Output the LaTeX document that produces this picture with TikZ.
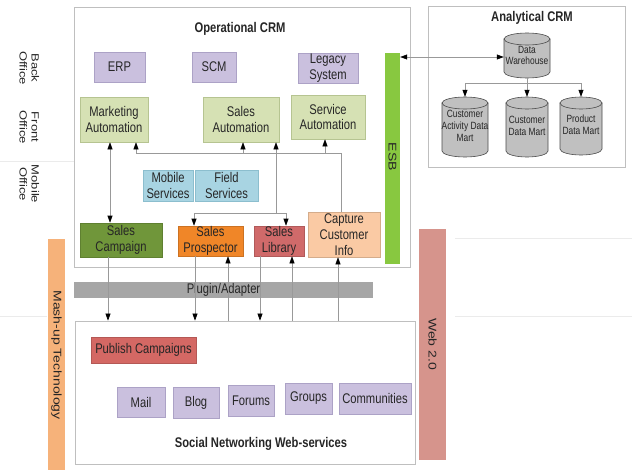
\documentclass[tikz,border=0pt]{standalone}
\usepackage{graphicx}
\usepackage{fontspec}
\setmainfont{Liberation Sans}[FakeStretch=0.8]
\newfontfamily\rotfont{Liberation Sans}
\usetikzlibrary{arrows.meta}
\definecolor{lav}{RGB}{202,192,222}
\definecolor{lavd}{RGB}{172,162,198}
\definecolor{fgrn}{RGB}{214,225,180}
\definecolor{fgrnd}{RGB}{182,196,145}
\definecolor{blu}{RGB}{168,212,226}
\definecolor{blud}{RGB}{140,190,206}
\definecolor{scg}{RGB}{112,150,58}
\definecolor{spo}{RGB}{240,134,40}
\definecolor{slr}{RGB}{208,106,106}
\definecolor{pch}{RGB}{250,202,164}
\definecolor{esbg}{RGB}{136,200,64}
\definecolor{plg}{RGB}{166,166,166}
\definecolor{msh}{RGB}{246,178,122}
\definecolor{webr}{RGB}{214,148,140}
\definecolor{pub}{RGB}{212,104,100}
\definecolor{cylf}{RGB}{192,192,192}
\tikzset{
  sz/.style 2 args={minimum width=#1pt, minimum height=#2pt},
  ft/.style={font=\fontsize{14}{15.7}\selectfont, text=black!85},
  bx/.style={ft, rectangle, align=center, inner sep=0pt, line width=0.6pt},
  lavbox/.style={bx, fill=lav, draw=lavd},
  grnbox/.style={bx, fill=fgrn, draw=fgrnd},
  blubox/.style={bx, fill=blu, draw=blud},
  frame/.style={rectangle, draw=black!25, line width=0.8pt, inner sep=0pt},
  ttl/.style={font=\bfseries\fontsize{14}{15.7}\selectfont, text=black!85},
  rt/.style={rotate=-90, align=center, inner sep=0pt, text=black!85},
  bar/.style={rectangle, inner sep=0pt},
  con/.style={draw=black!40, line width=0.6pt},
  ar/.style={-{Triangle[width=5pt,length=7pt,color=black]}},
  arb/.style={{Triangle[width=5pt,length=7pt,color=black]}-{Triangle[width=5pt,length=7pt,color=black]}},
  faint/.style={draw=black!8, line width=0.6pt},
  cyl/.style={fill=cylf, draw=black!70, line width=0.6pt},
  cylt/.style={align=center, inner sep=0pt, font=\fontsize{10.5}{11.7}\selectfont, text=black!85}
}
\begin{document}
\begin{tikzpicture}[x=1pt,y=-1pt]
\fill[white] (0,0) rectangle (632,471);
\useasboundingbox (0,0) rectangle (632,471);

% faint guide lines
\draw[faint] (0,161) -- (74,161);
\draw[faint] (455,238) -- (632,238);
\draw[faint] (0,316) -- (47,316);
\draw[faint] (455,316) -- (632,316);

% frames
\node[frame, sz={336}{260}] (op) at (242,137) {};
\node[ttl] (opt) at (240,29) {Operational CRM};
\node[frame, sz={197}{161}] (an) at (526.5,86.5) {};
\node[ttl] (ant) at (532,18) {Analytical CRM};
\node[frame, sz={340}{143}] (soc) at (245,392.5) {};
\node[ttl] (soct) at (261,444) {Social Networking Web-services};

% side labels
\node[rt] (bo) at (28,68) {\rotfont\fontsize{13}{15}\selectfont\scalebox{1}[0.8]{\begin{tabular}{@{}c@{}}Back\\Office\end{tabular}}};
\node[rt] (fo) at (28,127) {\rotfont\fontsize{13}{15}\selectfont\scalebox{1}[0.8]{\begin{tabular}{@{}c@{}}Front\\Office\end{tabular}}};
\node[rt] (mo) at (28,184) {\rotfont\fontsize{13}{15}\selectfont\scalebox{1}[0.8]{\begin{tabular}{@{}c@{}}Mobile\\Office\end{tabular}}};

% bars
\node[bar, fill=esbg, sz={15}{211}] (esb) at (392.5,158.5) {};
\node[rt] (esbt) at (392.5,157) {\rotfont\fontsize{14}{16}\selectfont\scalebox{1}[0.8]{ESB}};
\node[bar, fill=msh, sz={17}{231}] (mash) at (56.5,354.5) {};
\node[rt] (masht) at (56.5,355) {\rotfont\fontsize{14}{16}\selectfont\scalebox{1}[0.8]{Mash-up Technology}};
\node[bar, fill=webr, sz={27}{231}] (web) at (432.5,344.5) {};
\node[rt] (webt) at (432.5,344) {\rotfont\fontsize{14}{16}\selectfont\scalebox{1}[0.8]{Web 2.0}};
\node[bx, fill=plg, sz={299}{16}] (plug) at (223.5,290) {Plugin/Adapter};

% cylinders
\filldraw[cyl] (504,39) -- (504,72) arc[start angle=180, end angle=0, x radius=23, y radius=6] -- (550,39) -- cycle;
\filldraw[cyl] (527,39) ellipse[x radius=23, y radius=6];
\node[cylt, sz={46}{45}] (dw) at (527,55.5) {Data\\Warehouse};
\filldraw[cyl] (442,103) -- (442,151) arc[start angle=180, end angle=0, x radius=23, y radius=6] -- (488,103) -- cycle;
\filldraw[cyl] (465,103) ellipse[x radius=23, y radius=6];
\node[cylt, sz={46}{60}] (cadm) at (465,127) {\raisebox{-3pt}{\begin{tabular}{@{}c@{}}Customer\\Activity Data\\Mart\end{tabular}}};
\filldraw[cyl] (506,103) -- (506,151) arc[start angle=180, end angle=0, x radius=21, y radius=6] -- (548,103) -- cycle;
\filldraw[cyl] (527,103) ellipse[x radius=21, y radius=6];
\node[cylt, sz={42}{60}] (cdm) at (527,127) {\raisebox{-3pt}{\begin{tabular}{@{}c@{}}Customer\\Data Mart\end{tabular}}};
\filldraw[cyl] (560,103) -- (560,149) arc[start angle=180, end angle=0, x radius=21, y radius=6] -- (602,103) -- cycle;
\filldraw[cyl] (581,103) ellipse[x radius=21, y radius=6];
\node[cylt, sz={42}{58}] (pdm) at (581,126) {\raisebox{-3pt}{\begin{tabular}{@{}c@{}}Product\\Data Mart\end{tabular}}};

% boxes
\node[lavbox, sz={51}{30}] (erp) at (119.5,67) {ERP};
\node[lavbox, sz={44}{30}] (scm) at (214,67) {SCM};
\node[lavbox, sz={60}{30}] (leg) at (328,68) {Legacy\\System};
\node[grnbox, sz={68}{45}] (ma) at (114,119.5) {Marketing\\Automation};
\node[grnbox, sz={76}{45}] (sa) at (241,119.5) {Sales\\Automation};
\node[grnbox, sz={74}{44}] (sva) at (328,117) {Service\\Automation};
\node[blubox, sz={50}{31}] (mob) at (168,185.5) {Mobile\\Services};
\node[blubox, sz={63}{31}] (fld) at (226.5,185.5) {Field\\Services};
\node[bx, fill=scg, draw=scg!85!black, sz={82}{34}] (sc) at (121,240) {Sales\\Campaign};
\node[bx, fill=spo, draw=spo!85!black, sz={65}{30}] (sp) at (210.5,241) {Sales\\Prospector};
\node[bx, fill=slr, draw=slr!85!black, sz={50}{30}] (sl) at (279,241) {Sales\\Library};
\node[bx, fill=pch, draw=pch!85!black, sz={72}{45}] (cci) at (344,234.5) {Capture\\Customer\\Info};
\node[bx, fill=pub, draw=pub!85!black, sz={105}{26}] (pubc) at (143.5,350) {Publish Campaigns};
\node[lavbox, sz={48}{30}] (mail) at (141,402) {Mail};
\node[lavbox, sz={46}{31}] (blog) at (196,402.5) {Blog};
\node[lavbox, sz={46}{31}] (forum) at (251,400.5) {Forums};
\node[lavbox, sz={47}{31}] (grp) at (308.5,398.5) {Groups};
\node[lavbox, sz={72}{31}] (comm) at (375,398.5) {Communities};

% junction coordinates
\coordinate (j1) at (341,153);
\coordinate (j2) at (136,153);
\coordinate (j3) at (243,153);
\coordinate (j4) at (325,153);
\coordinate (k1) at (276,213);
\coordinate (k2) at (194,213);
\coordinate (k3) at (286,213);
\coordinate (m1) at (527,83);
\coordinate (m2) at (465,83);
\coordinate (m3) at (581,83);

% connectors: operational
\draw[con, arb] (110,0 |- ma.south) -- (110,0 |- sc.north);
\draw[con] (341,0 |- cci.north) -- (j1) -- (j2);
\draw[con, ar] (j2) -- (136,0 |- ma.south);
\draw[con, ar] (j3) -- (243,0 |- sa.south);
\draw[con, ar] (j4) -- (325,0 |- sva.south);
\draw[con, ar] (k1) -- (276,0 |- sa.south);
\draw[con] (k2) -- (k3);
\draw[con, ar] (k2) -- (194,0 |- sp.north);
\draw[con, ar] (k3) -- (286,0 |- sl.north);

% connectors: to/from social
\draw[con, ar] (108,0 |- sc.south) -- (108,0 |- soc.north);
\draw[con, ar] (195,0 |- sp.south) -- (195,0 |- soc.north);
\draw[con, ar] (260,0 |- sl.south) -- (260,0 |- soc.north);
\draw[con, ar] (228,0 |- soc.north) -- (228,0 |- sp.south);
\draw[con, ar] (292,0 |- soc.north) -- (292,0 |- sl.south);
\draw[con, ar] (338,0 |- soc.north) -- (338,0 |- cci.south);

% connectors: analytical
\draw[con, arb] (esb.east |- 0,57) -- (dw.west |- 0,57);
\draw[con] (dw.south) -- (m1);
\draw[con] (m2) -- (m3);
\draw[con, ar] (m2) -- (cadm.north);
\draw[con, ar] (m1) -- (cdm.north);
\draw[con, ar] (m3) -- (pdm.north);
\end{tikzpicture}
\end{document}
